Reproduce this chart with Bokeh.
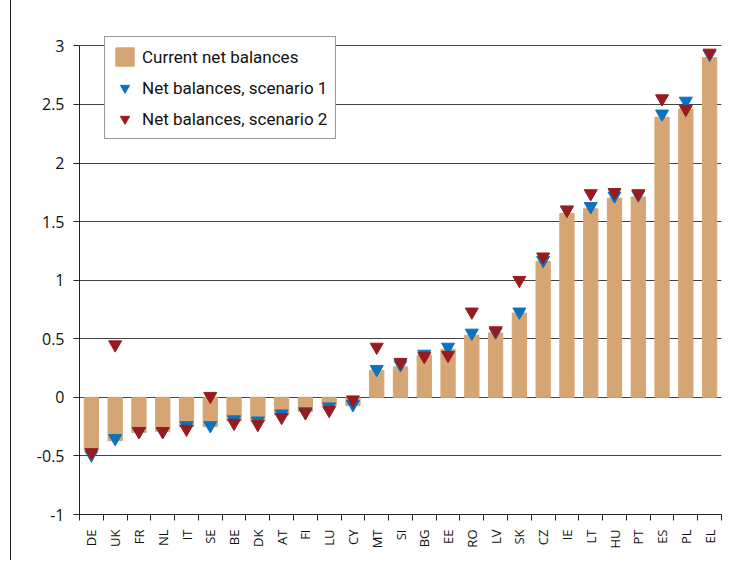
import math
from bokeh.plotting import figure
from bokeh.models import FixedTicker, Legend, LegendItem, ColumnDataSource
from bokeh.embed import file_html
from bokeh.resources import INLINE

countries = ["DE", "UK", "FR", "NL", "IT", "SE", "BE", "DK", "AT", "FI", "LU", "CY", "MT", "SI",
             "BG", "EE", "RO", "LV", "SK", "CZ", "IE", "LT", "HU", "PT", "ES", "PL", "EL"]
current = [-0.45, -0.37, -0.30, -0.29, -0.25, -0.25, -0.20, -0.20, -0.15, -0.12, -0.07, -0.07, 0.23, 0.26,
           0.36, 0.41, 0.53, 0.55, 0.72, 1.16, 1.57, 1.61, 1.70, 1.71, 2.39, 2.46, 2.90]
scenario1 = [-0.49, -0.35, -0.29, -0.29, -0.24, -0.24, -0.19, -0.20, -0.14, -0.12, -0.08, -0.06, 0.24, 0.28,
             0.37, 0.43, 0.55, 0.56, 0.73, 1.17, 1.60, 1.63, 1.72, 1.73, 2.42, 2.53, 2.93]
scenario2 = [-0.47, 0.45, -0.29, -0.29, -0.27, 0.01, -0.22, -0.23, -0.17, -0.13, -0.11, -0.02, 0.43, 0.30,
             0.35, 0.36, 0.73, 0.57, 1.00, 1.20, 1.60, 1.74, 1.75, 1.74, 2.55, 2.46, 2.94]
y_ticks = [-1, -0.5, 0, 0.5, 1, 1.5, 2, 2.5, 3]
y_tick_labels = ["-1", "-0.5", "0", "0.5", "1", "1.5", "2", "2.5", "3"]

FONT = "Roboto"
TICK_FONT = "Open Sans"
TAN = "#D5A574"
BLUE = "#0A72BF"
RED = "#981B1F"

xs = list(range(len(countries)))
src = ColumnDataSource(dict(x=xs, cur=current, s1=scenario1, s2=scenario2))

p = figure(width=722, height=560, output_backend="svg", toolbar_location=None,
           x_range=(-0.5, len(countries) - 0.5), y_range=(-1, 3.08),
           min_border_left=68, min_border_right=12, min_border_top=36, min_border_bottom=46)
p.outline_line_color = None
p.background_fill_color = "white"

bars = p.vbar(x="x", top="cur", bottom=0, width=0.6, color=TAN, source=src)
s1 = p.scatter(x="x", y="s1", marker="inverted_triangle", size=13, color=BLUE, source=src)
s2 = p.scatter(x="x", y="s2", marker="inverted_triangle", size=13, color=RED, source=src)

# x axis: labels at centers, tick marks between categories
xa = p.xaxis[0]
xa.ticker = FixedTicker(ticks=xs, minor_ticks=[i - 0.5 for i in range(len(countries) + 1)])
xa.major_label_overrides = {i: c for i, c in enumerate(countries)}
xa.major_tick_out = 0
xa.major_tick_in = 0
xa.minor_tick_out = 6
xa.minor_tick_in = 0
xa.minor_tick_line_color = "#222222"
xa.axis_line_color = "#222222"
xa.major_label_orientation = math.pi / 2
xa.major_label_text_font = TICK_FONT
xa.major_label_text_font_size = "13px"
xa.major_label_text_color = "#111111"
xa.major_label_standoff = 9

ya = p.yaxis[0]
ya.ticker = FixedTicker(ticks=y_ticks)
ya.bounds = (y_ticks[0], y_ticks[-1])
ya.major_label_overrides = dict(zip(y_ticks, y_tick_labels))
ya.major_tick_out = 6
ya.major_tick_in = 0
ya.minor_tick_line_color = None
ya.axis_line_color = "#222222"
ya.major_tick_line_color = "#222222"
ya.major_label_text_font = TICK_FONT
ya.major_label_text_font_size = "16px"
ya.major_label_text_color = "#111111"
ya.major_label_standoff = 9

p.xgrid.grid_line_color = None
p.ygrid.ticker = FixedTicker(ticks=y_ticks)
p.ygrid.grid_line_color = "#444444"
p.ygrid.grid_line_width = 1

legend = Legend(items=[
    LegendItem(label="Current net balances", renderers=[bars]),
    LegendItem(label="Net balances, scenario 1", renderers=[s1]),
    LegendItem(label="Net balances, scenario 2", renderers=[s2]),
], location=(25, 375))
legend.label_text_font = FONT
legend.label_text_font_size = "17px"
legend.label_text_color = "#111111"
legend.border_line_color = "#333333"
legend.border_line_width = 1
legend.background_fill_alpha = 1
legend.glyph_width = 23
legend.glyph_height = 23
legend.label_height = 23
legend.label_standoff = 6
legend.spacing = 8
legend.padding = 8
legend.margin = 0
p.add_layout(legend, "center")

p.styles = {"margin-left": "10px", "border-left": "1.5px solid #222222"}

open("out.html", "w").write(file_html(p, INLINE))
